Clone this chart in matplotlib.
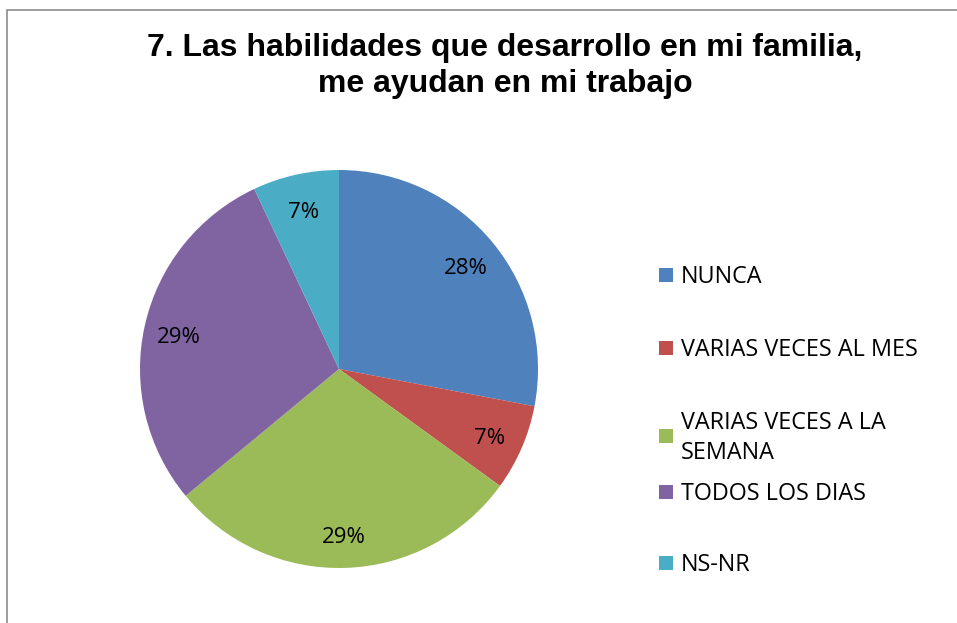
import matplotlib.pyplot as plt
import matplotlib.transforms as mtransforms
from matplotlib.patches import Rectangle

# Data
categories = ["NUNCA", "VARIAS VECES AL MES", "VARIAS VECES A LA\nSEMANA",
              "TODOS LOS DIAS", "NS-NR"]
values = [28, 7, 29, 29, 7]
colors = ["#4F81BD", "#C0504D", "#9BBB59", "#8064A2", "#4BACC6"]
title = "7. Las habilidades que desarrollo en mi familia,\nme ayudan en mi trabajo"

W, H = 957, 623
fig = plt.figure(figsize=(W / 100, H / 100), dpi=100)

# outer frame (only left/top visible in the crop)
fig.patches.append(Rectangle((7 / W, -0.1), 1.2, 1 - 10 / H + 0.1, transform=fig.transFigure,
                             fill=False, edgecolor="#8c8c8c", linewidth=1.2))

fig.text(505 / W, 1 - 66 / H, title, ha="center", va="center", fontsize=23,
         fontweight="bold", family="Liberation Sans", linespacing=1.22)

# pie, center (339, 369), radius 199 px
cx, cy, r = 339, 369, 199
ax = fig.add_axes([(cx - r) / W, (H - cy - r) / H, 2 * r / W, 2 * r / H])
wedges, texts = ax.pie(values, colors=colors, startangle=90, counterclock=False,
                       labels=[f"{v}%" for v in values], labeldistance=0.825,
                       textprops=dict(fontsize=16, family="Open Sans", va="center"),
                       wedgeprops=dict(linewidth=0))
shift = mtransforms.ScaledTranslation(0, -4 / 100, fig.dpi_scale_trans)
for t in texts:
    t.set_horizontalalignment("center")
    t.set_transform(t.get_transform() + shift)
ax.set_xlim(-1, 1)
ax.set_ylim(-1, 1)
ax.set_aspect("equal")

# legend drawn by hand to keep Excel spacing
legend_y = [275, 348, 436, 492, 563]
for lab, col, y in zip(categories, colors, legend_y):
    fig.patches.append(Rectangle((659 / W, 1 - (y + 7) / H), 14 / W, 14 / H,
                                 transform=fig.transFigure, facecolor=col, edgecolor="none"))
    fig.text(681 / W, 1 - (y + 2) / H, lab, ha="left", va="center", fontsize=16.8,
             family="Open Sans", linespacing=1.33)

fig.savefig("out.png", dpi=100)
